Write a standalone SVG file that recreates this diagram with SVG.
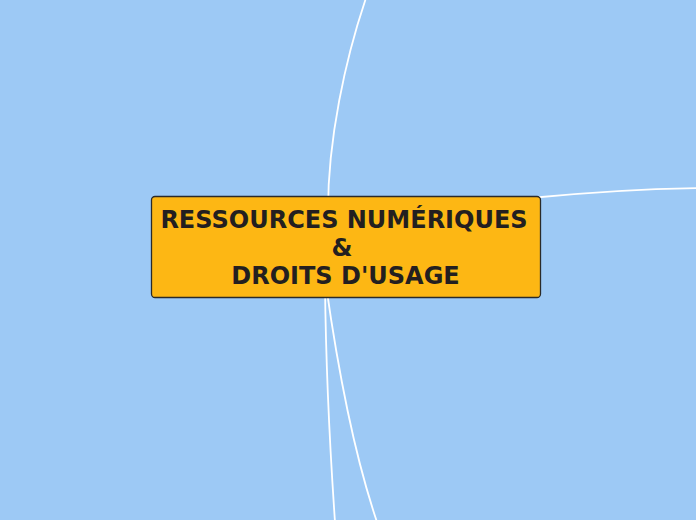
<svg xmlns="http://www.w3.org/2000/svg" width="696" height="520" viewBox="0 0 696 520">
  <style>
    .bg { fill: #9dc9f5; }
    .conn { fill: none; stroke: #ffffff; stroke-width: 1.8; stroke-linecap: round; }
    .node { fill: #fdb714; stroke: #2a2a2a; stroke-width: 1.3; }
    .label { font-family: "DejaVu Sans", Verdana, sans-serif; font-weight: bold; font-size: 24px; fill: #231f20; text-anchor: middle; }
  </style>
  <rect class="bg" x="0" y="0" width="696" height="520"/>
  <g id="connectors">
    <path class="conn" d="M328,210 C328,140 345,60 366,-2"/>
    <path class="conn" d="M530,198 C580,193 630,189 698,188"/>
    <path class="conn" d="M325,285 C326,380 330,450 335,522"/>
    <path class="conn" d="M326,285 C338,370 356,460 377,522"/>
  </g>
  <g id="node-center">
    <rect class="node" x="151.5" y="196.5" width="389" height="101" rx="3.5" ry="3.5"/>
    <text class="label" x="344" y="227.5">RESSOURCES NUMÉRIQUES</text>
    <text class="label" x="342" y="255.5">&amp;</text>
    <text class="label" x="345.5" y="284">DROITS D'USAGE</text>
  </g>
</svg>
